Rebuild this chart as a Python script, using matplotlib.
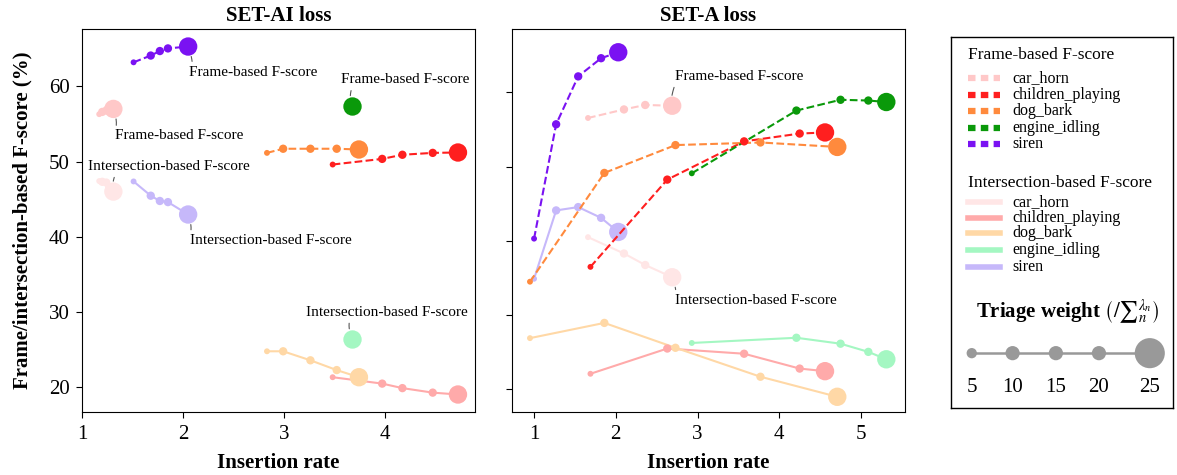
import numpy as np
import matplotlib
matplotlib.use("Agg")
import matplotlib.pyplot as plt
from matplotlib.lines import Line2D

plt.rcParams['font.family'] = 'serif'
plt.rcParams['font.serif'] = ['Liberation Serif', 'DejaVu Serif']
plt.rcParams['mathtext.fontset'] = 'stix'

CLASSES = ['car_horn', 'children_playing', 'dog_bark', 'engine_idling', 'siren']
FRAME_COLORS = ['#ffc8c8', '#ff1f1f', '#ff8a3d', '#0a990a', '#7a12f2']
INTER_COLORS = ['#ffe6e6', '#ffaaaa', '#ffd8a6', '#a4f7c2', '#c6b8fa']

WEIGHTS = [5, 10, 15, 20, 25]
MARKER_S = {5: 18, 10: 36, 15: 36, 20: 36, 25: 175}
LEGEND_S = {5: 55, 10: 105, 15: 105, 20: 105, 25: 470}

# SET-AI loss: insertion rate, frame-based and intersection-based F-score (%)
ai_weights = [WEIGHTS, WEIGHTS, WEIGHTS, [25], WEIGHTS]
ai_x = [[1.17, 1.20, 1.24, 1.27, 1.31],
        [3.48, 3.97, 4.17, 4.47, 4.72],
        [2.83, 2.99, 3.26, 3.52, 3.74],
        [3.67],
        [1.51, 1.68, 1.77, 1.85, 2.05]]
ai_frame = [[56.3, 56.6, 56.8, 56.9, 57.0],
            [49.6, 50.35, 50.9, 51.15, 51.2],
            [51.15, 51.7, 51.7, 51.7, 51.6],
            [57.4],
            [63.2, 64.1, 64.7, 65.05, 65.3]]
ai_inter = [[47.4, 47.3, 47.2, 46.6, 46.0],
            [21.3, 20.45, 19.85, 19.25, 19.0],
            [24.75, 24.75, 23.55, 22.25, 21.3],
            [26.4],
            [47.35, 45.45, 44.75, 44.6, 42.95]]

# SET-A loss
a_weights = [[5, 10, 15, 25], WEIGHTS, WEIGHTS, WEIGHTS, WEIGHTS]
a_x = [[1.66, 2.10, 2.36, 2.69],
       [1.69, 2.63, 3.57, 4.25, 4.56],
       [0.95, 1.86, 2.73, 3.77, 4.71],
       [2.93, 4.21, 4.75, 5.09, 5.31],
       [1.00, 1.27, 1.54, 1.82, 2.03]]
a_frame = [[56.55, 57.7, 58.3, 58.2],
           [36.5, 48.25, 53.4, 54.45, 54.6],
           [34.5, 49.15, 52.9, 53.25, 52.65],
           [49.1, 57.55, 59.0, 58.9, 58.7],
           [40.3, 55.7, 62.15, 64.6, 65.4]]
a_inter = [[40.5, 38.3, 36.75, 35.1],
           [22.1, 25.5, 24.8, 22.8, 22.45],
           [26.9, 28.95, 25.6, 21.7, 19.0],
           [26.25, 26.95, 26.15, 25.05, 24.05],
           [34.9, 44.1, 44.55, 43.1, 41.2]]

# annotations: (class index, kind, text x, text y, relpos)
ai_notes = [(4, 'frame', 2.06, 61.9, (0.02, 1.0)),
            (0, 'frame', 1.33, 53.4, (0.0, 1.0)),
            (0, 'inter', 1.06, 49.3, (0.17, 0.0)),
            (4, 'inter', 2.07, 39.5, (0.0, 1.0)),
            (3, 'frame', 3.56, 60.85, (0.09, 0.0)),
            (3, 'inter', 3.22, 29.9, (0.27, 0.0))]
a_notes = [(0, 'frame', 2.73, 62.1, (0.0, 0.0)),
           (0, 'inter', 2.73, 32.0, (0.0, 1.0))]
NOTE_TEXT = {'frame': 'Frame-based F-score', 'inter': 'Intersection-based F-score'}


def draw_panel(ax, xs, frames, inters, weights, notes):
    for i in range(len(CLASSES)):
        sizes = [MARKER_S[w] for w in weights[i]]
        ax.plot(xs[i], inters[i], '-', color=INTER_COLORS[i], lw=1.5, zorder=2)
        ax.scatter(xs[i], inters[i], s=sizes, color=INTER_COLORS[i], lw=0, zorder=3)
        ax.plot(xs[i], frames[i], '--', color=FRAME_COLORS[i], lw=1.5, zorder=4)
        ax.scatter(xs[i], frames[i], s=sizes, color=FRAME_COLORS[i], lw=0, zorder=5)
    for ci, kind, tx, ty, rp in notes:
        ys = frames[ci] if kind == 'frame' else inters[ci]
        ax.annotate(NOTE_TEXT[kind], xy=(xs[ci][-1], ys[-1]), xytext=(tx, ty),
                    fontsize=11, va='center', ha='left', zorder=6,
                    arrowprops=dict(arrowstyle='-', color='#555555', lw=0.8,
                                    relpos=rp, shrinkA=1, shrinkB=7.5,
                                    connectionstyle='angle3,angleA=70,angleB=110'))
    ax.tick_params(labelsize=15, length=4, pad=5)
    ax.set_yticks([20, 30, 40, 50, 60])
    ax.set_xlabel('Insertion rate', fontsize=15, fontweight='bold', labelpad=7)


fig = plt.figure(figsize=(11.77, 4.75), dpi=100)
ax1 = fig.add_axes([0.0697, 0.1326, 0.334, 0.8063])
ax2 = fig.add_axes([0.435, 0.1326, 0.334, 0.8063])

draw_panel(ax1, ai_x, ai_frame, ai_inter, ai_weights, ai_notes)
ax1.set_xlim(1.0, 4.89)
ax1.set_ylim(16.67, 67.63)
ax1.set_xticks([1, 2, 3, 4])
ax1.set_title('SET-AI loss', fontsize=15, fontweight='bold', pad=6)
ax1.set_ylabel('Frame/intersection-based F-score (%)', fontsize=15,
               fontweight='bold', labelpad=12)

draw_panel(ax2, a_x, a_frame, a_inter, a_weights, a_notes)
ax2.set_xlim(0.73, 5.54)
ax2.set_ylim(16.95, 68.53)
ax2.set_xticks([1, 2, 3, 4, 5])
ax2.set_yticklabels([])
ax2.set_title('SET-A loss', fontsize=15, fontweight='bold', pad=6)

# custom legend panel
lax = fig.add_axes([0.8077, 0.1417, 0.1886, 0.781])
lax.set_xlim(0, 1)
lax.set_ylim(0, 1)
lax.set_xticks([])
lax.set_yticks([])
for s in lax.spines.values():
    s.set_linewidth(1.0)

lax.text(0.077, 0.951, 'Frame-based F-score', fontsize=12.5, va='center', ha='left')
frame_rows = [0.888, 0.843, 0.80, 0.755, 0.71]
inter_rows = [0.555, 0.511, 0.47, 0.425, 0.38]
for i, name in enumerate(CLASSES):
    lax.add_line(Line2D([0.077, 0.222], [frame_rows[i]] * 2, color=FRAME_COLORS[i],
                        lw=4.5, ls=(0, (1.2, 0.85))))
    lax.text(0.279, frame_rows[i], name, fontsize=11.5, va='center', ha='left')
lax.text(0.077, 0.605, 'Intersection-based F-score', fontsize=12.5, va='center', ha='left')
for i, name in enumerate(CLASSES):
    lax.add_line(Line2D([0.077, 0.222], [inter_rows[i]] * 2, color=INTER_COLORS[i], lw=4))
    lax.text(0.279, inter_rows[i], name, fontsize=11.5, va='center', ha='left')

lax.text(0.528, 0.256, r'Triage weight $\left(/{\sum}_{n}^{\lambda_n}\right)$',
         fontsize=15, fontweight='bold', va='center', ha='center')
dot_x = [0.095, 0.279, 0.474, 0.668, 0.897]
lax.plot(dot_x, [0.147] * 5, '-', color='#999999', lw=1.8, zorder=1)
lax.scatter(dot_x, [0.147] * 5, s=[LEGEND_S[w] for w in WEIGHTS], color='#999999',
            lw=0, zorder=2)
for xw, w in zip(dot_x, WEIGHTS):
    lax.text(xw, 0.055, str(w), fontsize=15, va='center', ha='center')

fig.savefig('out.png', dpi=100)
